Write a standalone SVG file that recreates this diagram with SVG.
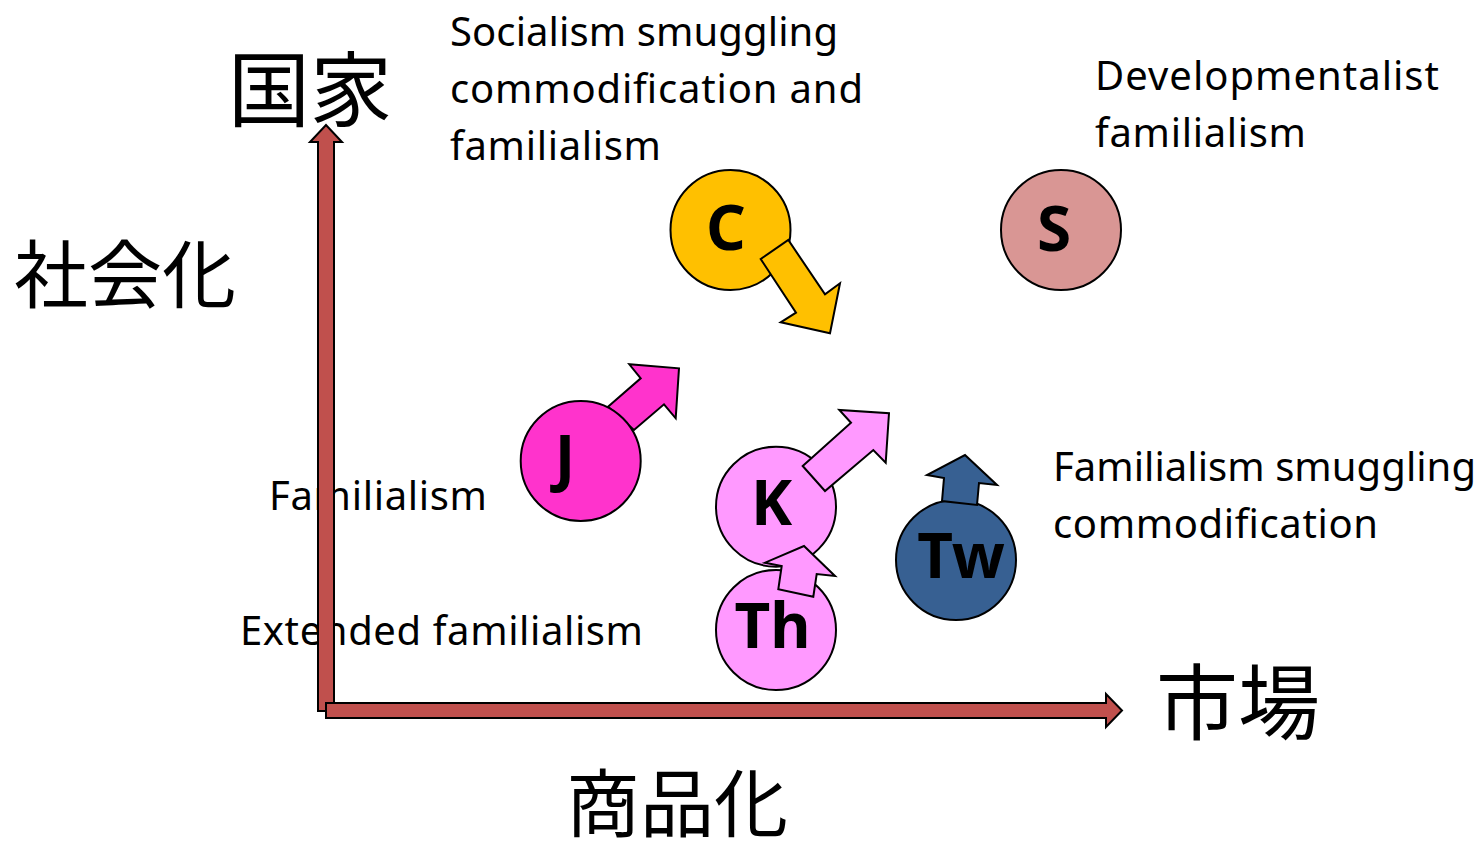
<svg xmlns="http://www.w3.org/2000/svg" width="1482" height="844" viewBox="0 0 1482 844">
<style>
.lbl{font-family:"Noto Sans","Open Sans","Liberation Sans",sans-serif;font-size:40px;fill:#000}
.cjk{font-family:"Noto Sans CJK JP","Noto Sans CJK SC",sans-serif;fill:#000}
.big{font-size:82px}
.mid{font-size:74px}
.node{stroke:#000;stroke-width:2}
.tag{font-family:"Noto Sans","Open Sans","Liberation Sans",sans-serif;font-weight:bold;font-size:62px;fill:#000;text-anchor:middle}
.axis{fill:#C0504D;stroke:#000;stroke-width:2;stroke-linejoin:miter}
.mv{stroke:#000;stroke-width:2;stroke-linejoin:miter}
</style>
<rect width="1482" height="844" fill="#fff"/>
<g id="labels">
<text class="cjk big" x="228" y="120">国家</text>
<text class="cjk mid" x="14" y="302">社会化</text>
<text class="cjk big" x="1156" y="733">市場</text>
<text class="cjk mid" x="566" y="831">商品化</text>
<text class="lbl" x="450" y="46" textLength="388">Socialism smuggling</text>
<text class="lbl" x="450" y="103" textLength="413">commodification and</text>
<text class="lbl" x="450" y="160" textLength="211">familialism</text>
<text class="lbl" x="1095" y="90" textLength="344">Developmentalist</text>
<text class="lbl" x="1095" y="147" textLength="211">familialism</text>
<text class="lbl" x="1053" y="481" textLength="423">Familialism smuggling</text>
<text class="lbl" x="1053" y="538" textLength="325">commodification</text>
<text class="lbl" x="269" y="510" textLength="218">Familialism</text>
<text class="lbl" x="240" y="645" textLength="403">Extended familialism</text>
</g>
<g id="connectors">
<polygon id="axis-state" class="axis" points="318,711 318,142 310,142 326,125 342,142 334,142 334,711"/>
<polygon id="axis-market" class="axis" points="326,703 1106,703 1106,694 1122,710.5 1106,727 1106,718 326,718"/>
</g>
<g id="node-C">
<circle class="node" cx="730.5" cy="230" r="60" fill="#FFC000"/>
<text class="tag" x="726" y="250">C</text>
<polygon class="mv" fill="#FFC000" points="760.7,259 788.3,240 825,294.3 840,283.3 830,333.3 780.7,322.3 796,312.7"/>
</g>
<g id="node-S">
<circle class="node" cx="1061" cy="230" r="60" fill="#D99694"/>
<text class="tag" x="1054" y="251">S</text>
</g>
<g id="node-J">
<polygon class="mv" fill="#FF33CC" points="608,406.7 640.7,378.3 629.3,364.3 679,368.3 675.7,418.3 664,404.3 634,430"/>
<circle class="node" cx="580.7" cy="461" r="60" fill="#FF33CC"/>
<text class="tag" x="565" y="480">J</text>
</g>
<g id="node-K">
<circle class="node" cx="776" cy="506.7" r="60" fill="#FF99FF"/>
<text class="tag" x="771.5" y="525">K</text>
<polygon class="mv" fill="#FF99FF" points="802.7,466 851,422.7 839.3,410 889,413.3 885.7,462.7 873.3,450 825,491"/>
</g>
<g id="node-Th">
<circle class="node" cx="776" cy="630" r="60" fill="#FF99FF"/>
<text class="tag" x="772.5" y="648">Th</text>
<polygon class="mv" fill="#FF99FF" points="778.3,589.3 781.7,566 765,562.7 804,546 835,576 816.7,574 813.3,596.7"/>
</g>
<g id="node-Tw">
<circle class="node" cx="956" cy="560" r="60" fill="#376092"/>
<text class="tag" x="961" y="578">Tw</text>
<polygon class="mv" fill="#376092" points="942,501 944,478 927,475 965,455 997,485 979,483 977,505"/>
</g>
</svg>
